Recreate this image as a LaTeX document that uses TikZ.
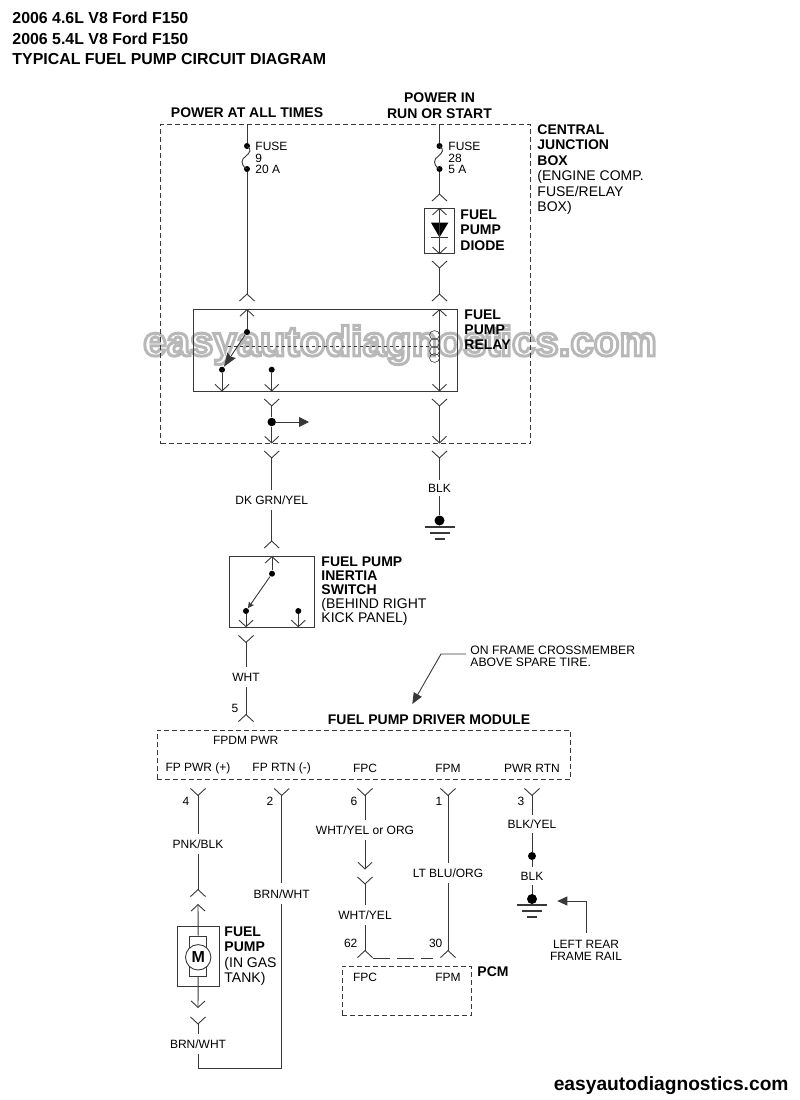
\documentclass[tikz,border=0pt]{standalone}
\usepackage{fontspec}
\setmainfont{Liberation Sans}
\usetikzlibrary{arrows.meta}

\tikzset{
    barb/.tip={Straight Barb[length=6.5pt,width=14pt]},
    pin/.tip={Straight Barb[reversed,length=7pt,width=15pt]},
    wirecolor/.style={draw=black!78,line width=.9pt},
    wire/.style={wirecolor},
    title/.style={inner sep=0pt,anchor=west,font=\fontsize{15.9}{16}\selectfont\bfseries},
    heading/.style={inner sep=0pt,align=center,font=\fontsize{14}{15.5}\selectfont\bfseries},
    note/.style={inner sep=0pt,anchor=north west,align=left,font=\fontsize{14}{15.5}\selectfont},
    small/.style={inner sep=0pt,font=\fontsize{12}{12}\selectfont},
    smallnote/.style={inner sep=0pt,align=left,anchor=north west,font=\fontsize{12}{12}\selectfont},
    color label/.style={small,minimum height=20pt},
    solidbox/.style={shape=rectangle,draw=black!78,line width=.9pt,inner sep=0pt},
    dashbox/.style={solidbox,dash pattern=on 5pt off 3pt},
    bigdot/.style={shape=circle,fill=black,inner sep=0pt,minimum size=8.5pt},
    dot/.style={shape=circle,fill=black,inner sep=0pt,minimum size=6pt},
    ground/.pic={
        \draw[line width=1.6pt] (-15,0) -- (15,0);
        \draw[line width=1.2pt] (-10,6) -- (10,6);
        \draw[line width=1.4pt] (-5,12) -- (5,12);
    },
    fuse/.pic={
        \draw[wire] (0,0) .. controls (5,3) and (3,7) .. (-1,10)
            .. controls (-6,13) and (-7,19) .. (0,23);
    }
}

\begin{document}
\begin{tikzpicture}[x=1pt,y=-1pt,wire]
    \useasboundingbox (0,0) rectangle (800,1100);
    \node[inner sep=0pt,text=white,font=\fontsize{42}{42}\selectfont\bfseries](mark)at(400, 345){\special{pdf:code 2 Tr 3 w 0.72 0.72 0.72 RG}easyautodiagnostics.com\special{pdf:code 0 Tr 1 w}};

    \node[title](head1)at(12, 18){2006 4.6L V8 Ford F150};
    \node[title](head2)at(12, 39){2006 5.4L V8 Ford F150};
    \node[title](head3)at(12, 59){TYPICAL FUEL PUMP CIRCUIT DIAGRAM};
    \node[heading](always)at(247, 113){POWER AT ALL TIMES};
    \node[heading,anchor=south](runstart)at(439.5, 119){POWER IN\\RUN OR START};
    \node[note](cjbtext)at(537, 124){\textbf{CENTRAL}\\\textbf{JUNCTION}\\\textbf{BOX}\\(ENGINE COMP.\\FUSE/RELAY\\BOX)};
    \node[dashbox,minimum width=370pt,minimum height=319.5pt](cjb)at(345.7, 284){};

    \node[dot](fuse9a)at(247, 146){};
    \node[dot](fuse9b)at(247, 169){};
    \node[dot](fuse28a)at(439.5, 146){};
    \node[dot](fuse28b)at(439.5, 169){};
    \pic at (247, 146) {fuse};
    \pic at (439.5, 146) {fuse};
    \node[smallnote](fuse9text)at(255, 142){FUSE\\[-.5pt]9\\[-.5pt]20 A};
    \node[smallnote](fuse28text)at(448, 142){FUSE\\[-.5pt]28\\[-.5pt]5 A};

    \node[solidbox,minimum width=30.4pt,minimum height=45.4pt](diode)at(439.5, 231){};
    \node[note,font=\fontsize{14}{15.5}\selectfont\bfseries](diodetext)at(460, 209){FUEL\\PUMP\\DIODE};
    \fill (431, 222.7) -- (448.3, 222.7) -- (439.5, 237.3) -- cycle;
    \draw (431, 237.3) -- (448.3, 237.3);

    \node[solidbox,minimum width=264pt,minimum height=82.5pt](relay)at(325.2, 350.3){};
    \node[note,font=\fontsize{14}{15}\selectfont\bfseries](relaytext)at(464, 309){FUEL\\PUMP\\RELAY};
    \node[dot](common)at(247, 332){};
    \node[dot](contactA)at(222, 369.7){};
    \node[dot](contactB)at(271.7, 369.7){};
    \foreach \y in {335,343,351,358}
        \draw[line width=.6pt] (434.5, \y) ellipse (5 and 4.4);

    \coordinate(feedA)at(247, 124.5);
    \coordinate(feedB)at(439.5, 124.5);
    \coordinate(relayA)at(247, 301.5);
    \coordinate(relayB)at(439.5, 301.5);
    \coordinate(diodeIn)at(439.5, 201.5);
    \coordinate(diodeOut)at(439.5, 260.5);
    \coordinate(relayInA)at(247, 309);
    \coordinate(relayOutA)at(222, 391.5);
    \coordinate(relayOutB)at(271.7, 391.5);
    \coordinate(relayCoilIn)at(439.5, 309);
    \coordinate(relayCoilOut)at(439.5, 391.5);
    \coordinate(spliceIn)at(271.7, 398.5);
    \coordinate(coilOutB)at(439.5, 398.5);
    \node[bigdot](splice)at(271.7, 422){};
    \coordinate(branch)at(309, 422);
    \coordinate(boxOutA)at(271.7, 443.5);
    \coordinate(boxOutB)at(439.5, 443.5);
    \coordinate(wireInA)at(271.7, 450.5);
    \coordinate(wireInB)at(439.5, 450.5);
    \node[color label](dkgrn)at(271.7, 500){DK GRN/YEL};
    \node[color label,minimum height=16pt](blk1)at(439.5, 488){BLK};
    \node[bigdot,minimum size=10pt](gnd1)at(439.5, 520.5){};
    \pic at (439.5, 527) {ground};

    \coordinate(switchPin)at(271.7, 548.5);
    \node[solidbox,minimum width=85.4pt,minimum height=71.3pt](inertia)at(272, 591.7){};
    \node[note,font=\fontsize{14}{14}\selectfont](inertiatext)at(321, 556){\textbf{FUEL PUMP}\\\textbf{INERTIA}\\\textbf{SWITCH}\\(BEHIND RIGHT\\KICK PANEL)};
    \coordinate(switchIn)at(272, 556);
    \node[dot](switchCommon)at(272, 573.7){};
    \node[dot](switchA)at(246, 611){};
    \node[dot](switchB)at(298.3, 611){};
    \coordinate(switchOutA)at(246, 627.3);
    \coordinate(switchOutB)at(298.3, 627.3);
    \coordinate(wireWhtIn)at(246, 635);
    \node[color label](wht)at(246, 677){WHT};
    \coordinate(modulePin)at(246, 722);
    \node[small](pin5)at(235, 708){5};

    \path (feedA) edge (fuse9a)
    (fuse9b) edge[-pin] (relayA)
    (feedB) edge (fuse28a)
    (fuse28b) edge[-pin] (diodeIn)
    (diode.north) edge[barb-barb] (diode.south)
    (diodeOut) edge[pin-pin] (relayB)
    (relayInA) edge[barb-] (common)
    (common) edge[-{Stealth[length=14pt,width=10pt,inset=2pt]}] (contactA)
    (contactA) edge[-barb] (relayOutA)
    (contactB) edge[-barb] (relayOutB)
    (relayCoilIn) edge[barb-barb] (relayCoilOut)
    (spliceIn) edge[pin-] (splice)
    (splice) edge[-{Stealth[length=10pt,width=10pt,inset=0pt]}] (branch)
    (splice) edge[-barb] (boxOutA)
    (coilOutB) edge[pin-barb] (boxOutB)
    (wireInA) edge[pin-] (dkgrn)
    (dkgrn) edge[-pin] (switchPin)
    (wireInB) edge[pin-] (blk1)
    (blk1) edge (gnd1)
    (switchIn) edge[barb-] (switchCommon)
    (switchCommon) edge[-{Stealth[length=6pt,width=6pt,inset=1pt]}] (switchA)
    (switchA) edge[-barb] (switchOutA)
    (switchB) edge[-barb] (switchOutB)
    (wireWhtIn) edge[pin-] (wht)
    (wht) edge[-pin] (modulePin);
    \draw[line width=.7pt,dashed] (228.3, 346) -- (429.5, 346);

    \node[small,anchor=north west,align=left,font=\fontsize{12.2}{12}\selectfont](sparetext)at(470, 646){ON FRAME CROSSMEMBER\\[-.5pt]ABOVE SPARE TIRE.};
    \coordinate(spareStart)at(466, 654);
    \coordinate(spareTip)at(412.3, 704);
    \draw[-{Stealth[length=11pt,width=9pt,inset=0pt]}] (spareStart) -- (441, 654) -- (spareTip);

    \node[heading](moduletext)at(429, 720){FUEL PUMP DRIVER MODULE};
    \node[dashbox,minimum width=413.4pt,minimum height=49.3pt](module)at(364, 754.7){};
    \node[small](fpdm)at(245.7, 740){FPDM PWR};
    \node[small](fppwr)at(198, 768){FP PWR (+)};
    \node[small](fprtn)at(281.7, 768){FP RTN (-)};
    \node[small](fpc)at(365, 768){FPC};
    \node[small](fpm)at(448, 768){FPM};
    \node[small](pwrrtn)at(532, 768){PWR RTN};

    \foreach \px/\nx/\nm/\name in {198/186/4/a,281.7/270/2/b,365/354/6/c,448/439/1/d,532/521/3/e}{
        \coordinate(out\name)at(\px, 788);
        \node[small](num\name)at(\nx, 801){\nm};
    }

    \node[color label](pnk)at(198, 844){PNK/BLK};
    \coordinate(motorPin)at(198, 897);
    \coordinate(motorIn)at(198, 904);
    \node[solidbox,minimum width=41.7pt,minimum height=60.7pt](pumpbox)at(198.2, 956.4){};
    \node[solidbox,minimum width=16.7pt,minimum height=40pt](brush)at(198.2, 956){};
    \node[solidbox,shape=circle,fill=white,minimum size=25.4pt,font=\fontsize{16}{16}\selectfont\bfseries](motor)at(198.2, 957.3){M};
    \node[note](pumptext)at(224, 926){\textbf{FUEL}\\\textbf{PUMP}\\(IN GAS\\TANK)};
    \coordinate(motorOut)at(198, 1008);
    \coordinate(returnIn)at(198, 1016.5);
    \node[color label](brn1)at(198, 1044){BRN/WHT};
    \coordinate(returnBL)at(198, 1068.3);
    \coordinate(returnBR)at(281.7, 1068.3);
    \node[color label](brn2)at(281.7, 893.7){BRN/WHT};

    \node[color label](whtorg)at(365, 830){WHT/YEL or ORG};
    \coordinate(fpcOut)at(365, 869.5);
    \coordinate(fpcIn)at(365, 876.5);
    \node[color label](whtyel)at(365, 915){WHT/YEL};
    \coordinate(pcmPinC)at(365, 958);
    \coordinate(pcmPinM)at(448, 958);
    \node[color label](ltblu)at(448, 873){LT BLU/ORG};
    \node[small](num62)at(350.7, 943){62};
    \node[small](num30)at(435.7, 943){30};
    \node[dashbox,minimum width=129.4pt,minimum height=49.3pt](pcm)at(407, 990.7){};
    \node[small](pcmfpc)at(365, 977){FPC};
    \node[small](pcmfpm)at(448, 977){FPM};
    \node[title,anchor=west,font=\fontsize{14}{14}\selectfont\bfseries](pcmtext)at(477, 972){PCM};

    \node[color label,minimum height=17pt](blkyel)at(532, 824){BLK/YEL};
    \node[dot,minimum size=8pt](gndsplice)at(532, 856){};
    \node[color label,minimum height=17pt](blk2)at(532, 876){BLK};
    \node[bigdot,minimum size=10pt](gnd2)at(532, 899){};
    \pic at (532, 905) {ground};
    \coordinate(railStart)at(586, 932.7);
    \coordinate(railTip)at(557.3, 901);
    \draw[-{Stealth[length=10pt,width=9pt,inset=0pt]}] (railStart) -- (586, 901) -- (railTip);
    \node[small,align=center,anchor=north](railtext)at(586, 940){LEFT REAR\\[-.5pt]FRAME RAIL};

    \path (outa) edge[pin-] (pnk)
    (pnk) edge[-pin] (motorPin)
    (motorIn) edge[barb-] (brush.north)
    (brush.south) edge[-barb] (motorOut)
    (returnIn) edge[pin-] (brn1)
    (brn1) edge (returnBL)
    (outb) edge[pin-] (brn2)
    (outc) edge[pin-] (whtorg)
    (whtorg) edge[-barb] (fpcOut)
    (fpcIn) edge[pin-] (whtyel)
    (whtyel) edge[-pin] (pcmPinC)
    (outd) edge[pin-] (ltblu)
    (ltblu) edge[-pin] (pcmPinM)
    (oute) edge[pin-] (blkyel)
    (blkyel) edge (gndsplice)
    (gndsplice) edge (blk2)
    (blk2) edge (gnd2);
    \draw (returnBL) -- (returnBR) -- (brn2);
    \draw[dash pattern=on 17pt off 7pt] (373, 958) -- (433, 958);

    \node[title,anchor=east,font=\fontsize{19.2}{19}\selectfont\bfseries](footer)at(789, 1086){easyautodiagnostics.com};
\end{tikzpicture}
\end{document}
